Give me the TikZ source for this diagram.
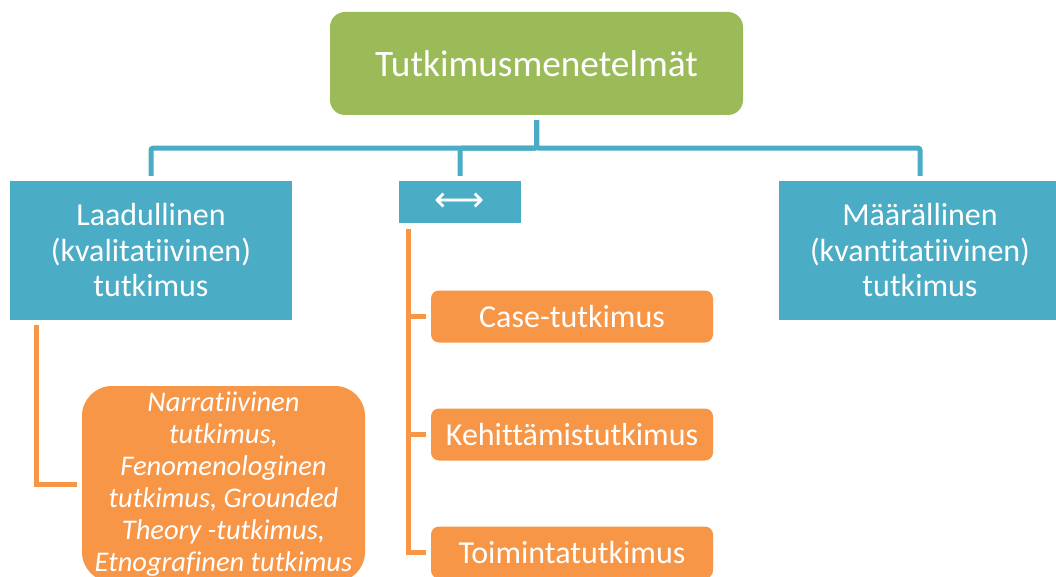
\documentclass[tikz,border=0pt]{standalone}
\usepackage{fontspec}
\setmainfont{Carlito}[Ligatures={NoCommon}]
\newfontfamily\arrowfont{DejaVu Sans}
\begin{document}
\begin{tikzpicture}[x=1pt,y=-1pt,
  every node/.style={text=white, align=center, inner sep=0pt},
  boxblue/.style={fill=blueC, minimum width=282pt, minimum height=139pt,
    font=\fontsize{32}{35.5}\selectfont},
  boxgreen/.style={fill=greenC, rounded corners=15pt, minimum width=413pt, minimum height=103pt,
    font=\fontsize{37.3}{42}\selectfont},
  boxorange/.style={fill=orangeC, rounded corners=8pt, minimum width=282pt, minimum height=52pt,
    font=\fontsize{32}{36}\selectfont},
  bline/.style={draw=blueC, line width=5pt, rounded corners=2pt},
  oline/.style={draw=orangeC, line width=5pt},
]
\definecolor{blueC}{HTML}{4BACC6}
\definecolor{greenC}{HTML}{9BBB59}
\definecolor{orangeC}{HTML}{F79646}
\useasboundingbox (0,0) rectangle (1056,577);

% top level
\node[boxgreen] (top) at (536.5,63.5) {Tutkimusmenetelmät};

% second level
\node[boxblue] (qual) at (151,250.5) {Laadullinen\\(kvalitatiivinen)\\tutkimus};
\node[boxblue, minimum width=122pt, minimum height=42pt] (mid) at (460,202)
  {\fontsize{35}{35}\arrowfont ⟷};
\node[boxblue] (quant) at (920,250.5) {Määrällinen\\(kvantitatiivinen)\\tutkimus};

% qualitative methods
\node[boxorange, rounded corners=30pt, minimum width=283pt, minimum height=196pt,
  font=\fontsize{28.5}{32}\selectfont\itshape] (narr) at (223.5,484)
  {Narratiivinen\\tutkimus,\\Fenomenologinen\\tutkimus, Grounded\\Theory -tutkimus,\\Etnografinen tutkimus};

% mixed methods
\node[boxorange] (case) at (572,316.5) {Case-tutkimus};
\node[boxorange] (kehi) at (572,434.5) {Kehittämistutkimus};
\node[boxorange] (toim) at (572,552.5) {Toimintatutkimus};

% blue tree connectors
\draw[bline, shorten <=5pt, shorten >=5pt] (top.south) -- ++(0,33) -| (qual.north);
\draw[bline, shorten <=5pt, shorten >=5pt] (top.south) -- ++(0,33) -| (mid.north);
\draw[bline, shorten <=5pt, shorten >=5pt] (top.south) -- ++(0,33) -| (quant.north);

% orange connectors
\draw[oline, shorten <=5pt, shorten >=5pt] ([xshift=27pt]qual.south west) |- (narr.west);
\coordinate (trunk) at ([xshift=10pt]mid.south west);
\draw[oline, shorten <=6pt, shorten >=5pt] (trunk) |- (toim.west);
\draw[oline, shorten >=5pt] (trunk |- case.west) -- (case.west);
\draw[oline, shorten >=5pt] (trunk |- kehi.west) -- (kehi.west);
\end{tikzpicture}
\end{document}
